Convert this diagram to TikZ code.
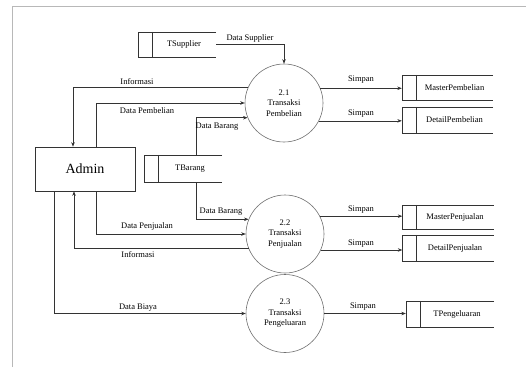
\documentclass[tikz,border=0pt]{standalone}
\usepackage{fontspec}
\setmainfont{Liberation Serif}
\usetikzlibrary{arrows.meta}
\definecolor{linec}{HTML}{333333}
\definecolor{framec}{HTML}{B8B8B8}
\definecolor{circc}{HTML}{707070}
\tikzset{
  lbl/.style={inner sep=0pt, font=\fontsize{8.5}{10}\selectfont},
  flow/.style={draw=linec, line width=0.6pt, -{Stealth[length=4.5pt,width=3.5pt]}},
  simple/.style={draw=linec, line width=0.6pt},
  proc/.style={circle, draw=circc, line width=0.6pt, minimum size=78pt, inner sep=0pt, align=center,
    font=\fontsize{8.5}{10.5}\selectfont},
  entity/.style={rectangle, draw=linec, line width=0.6pt, minimum width=100pt, minimum height=44pt,
    inner sep=0pt, font=\fontsize{14}{16}\selectfont},
  storebox/.style={rectangle, inner sep=0pt, minimum height=25pt, font=\fontsize{8.5}{10}\selectfont,
    execute at begin node=\hspace*{14pt},
    append after command={\pgfextra{%
      \draw[linec, line width=0.6pt] (\tikzlastnode.north east) -- (\tikzlastnode.north west)
        -- (\tikzlastnode.south west) -- (\tikzlastnode.south east);
      \draw[linec, line width=0.6pt] ([xshift=14pt]\tikzlastnode.north west) -- ([xshift=14pt]\tikzlastnode.south west);}}},
}
\begin{document}
\begin{tikzpicture}[x=1pt,y=-1pt]
\useasboundingbox (0,0) rectangle (526,367);
% frame
\draw[framec, line width=0.8pt] (12,367) -- (12,6) -- (526,6);

% processes
\node[proc] (c21) at (284,103) {2.1\\Transaksi\\Pembelian};
\node[proc] (c22) at (285,234) {2.2\\Transaksi\\Penjualan};
\node[proc] (c23) at (285,313.5) {2.3\\Transaksi\\Pengeluaran};

% entity
\node[entity] (admin) at (85,169) {Admin};

% stores
\node[storebox, minimum width=78pt] (tsup) at (177,44.5) {TSupplier};
\node[storebox, minimum width=78pt, minimum height=27pt] (tbar) at (183,168.5) {TBarang};
\node[storebox, minimum width=91pt] (mpb) at (447.5,87.5) {MasterPembelian};
\node[storebox, minimum width=91pt, minimum height=26pt] (dpb) at (447.5,120) {DetailPembelian};
\node[storebox, minimum width=91pt, minimum height=24pt] (mpj) at (448,217) {MasterPenjualan};
\node[storebox, minimum width=91pt, minimum height=26pt] (dpj) at (448,248) {DetailPenjualan};
\node[storebox, minimum width=88pt, minimum height=26pt] (tpg) at (450,314) {TPengeluaran};

% flows
\draw[flow] (tsup.east) -| (c21.north);
\draw[flow] (c21.156) -| ([xshift=-12pt]admin.north);
\draw[flow] ([xshift=11pt]admin.north) |- (c21.180);
\draw[flow] ([xshift=13pt]tbar.north) |- (c21.202);
\draw[flow] ([xshift=13pt]tbar.south) |- (c22.158);
\draw[flow] ([xshift=11pt]admin.south) |- (c22.180);
\draw[flow] (c22.202) -| ([xshift=-11pt]admin.south);
\draw[flow] ([xshift=-31pt]admin.south) |- (c23.180);

\draw[flow] (c21.22) -- (c21.22 -| mpb.west);
\draw[flow] (c21.333) -- (c21.333 -| dpb.west);
\draw[flow] (c22.27) -- (c22.27 -| mpj.west);
\draw[flow] (c22.336) -- (c22.336 -| dpj.west);
\draw[flow] (c23.0) -- (c23.0 -| tpg.west);

% labels
\node[lbl] (l1) at (250,38) {Data Supplier};
\node[lbl] (l2) at (137,82) {Informasi};
\node[lbl] (l3) at (147,111) {Data Pembelian};
\node[lbl] (l4) at (217,127) {Data Barang};
\node[lbl] (l5) at (221,212) {Data Barang};
\node[lbl] (l6) at (147,226) {Data Penjualan};
\node[lbl] (l7) at (138,255) {Informasi};
\node[lbl] (l8) at (138,308) {Data Biaya};
\node[lbl] (s1) at (361,80) {Simpan};
\node[lbl] (s2) at (361,114) {Simpan};
\node[lbl] (s3) at (361,210) {Simpan};
\node[lbl] (s4) at (361,244) {Simpan};
\node[lbl] (s5) at (363,307) {Simpan};
\end{tikzpicture}
\end{document}
